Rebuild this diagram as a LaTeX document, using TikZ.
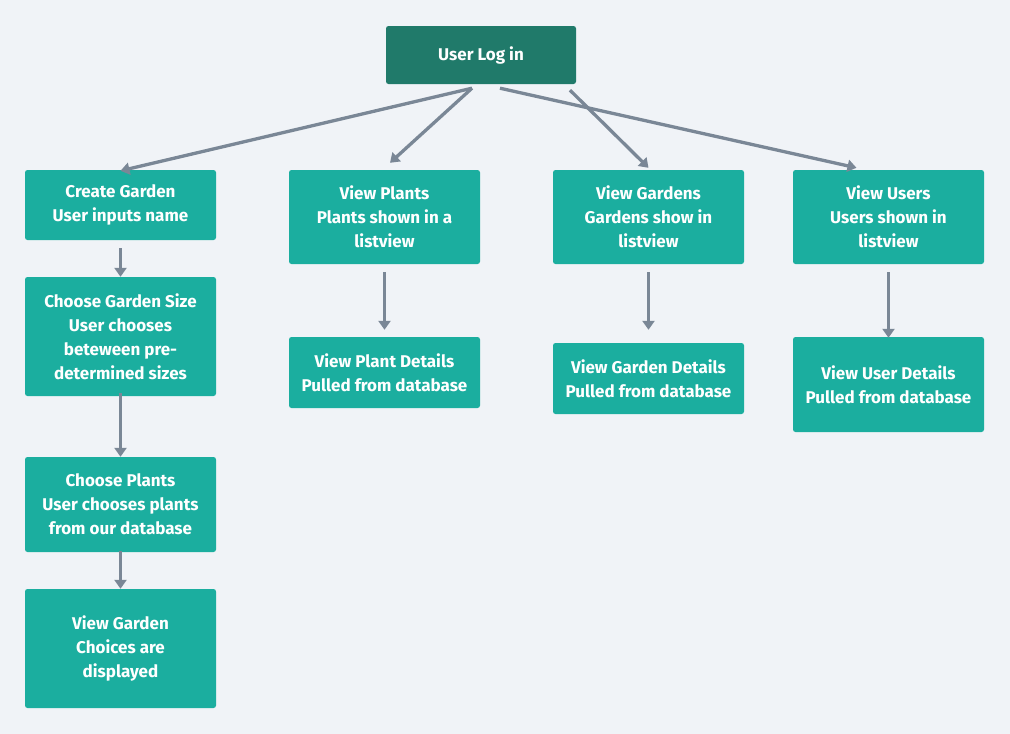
\documentclass[tikz,border=0pt]{standalone}
\usepackage{fontspec}
\setmainfont{Fira Sans}
\usetikzlibrary{arrows.meta}
\definecolor{bg}{HTML}{F0F3F7}
\definecolor{teal}{HTML}{1BAE9F}
\definecolor{darkteal}{HTML}{207A6A}
\definecolor{arr}{HTML}{7A8796}
\tikzset{
  box/.style={fill=teal, rounded corners=2.5pt, minimum width=191pt, inner sep=0pt,
    align=center, text=white, font=\bfseries\fontsize{17}{24}\selectfont},
  conn/.style={draw=arr, line width=3.3pt, -{Triangle[length=9pt,width=12pt]}},
}
\begin{document}
\begin{tikzpicture}[x=1pt,y=-1pt]
\useasboundingbox[fill=bg] (0,0) rectangle (1010,734);
\node[box, fill=darkteal, minimum width=190pt, minimum height=58pt] (login) at (481,55) {User Log in};
\node[box, minimum height=70pt] (cg) at (120.5,205) {Create Garden\\User inputs name};
\node[box, minimum height=119pt] (size) at (120.5,336.5) {Choose Garden Size\\User chooses\\beteween pre-\\determined sizes};
\node[box, minimum height=95pt] (plants) at (120.5,504.5) {Choose Plants\\User chooses plants\\from our database};
\node[box, minimum height=119pt] (vg) at (120.5,648.5) {View Garden\\Choices are\\displayed};
\node[box, minimum height=94pt] (vp) at (384.5,217) {View Plants\\Plants shown in a\\listview};
\node[box, minimum height=71pt] (vpd) at (384.5,372.5) {View Plant Details\\Pulled from database};
\node[box, minimum height=94pt] (vgs) at (648.5,217) {View Gardens\\Gardens show in\\listview};
\node[box, minimum height=71pt] (vgd) at (648.5,378.5) {View Garden Details\\Pulled from database};
\node[box, minimum height=94pt] (vu) at (888.5,217) {View Users\\Users shown in\\listview};
\node[box, minimum height=95pt] (vud) at (888.5,384.5) {View User Details\\Pulled from database};

\draw[conn] ([xshift=-9pt,yshift=-4pt]login.south) -- ([yshift=-1pt]cg.north);
\draw[conn] ([xshift=-9pt,yshift=-4pt]login.south) -- ([xshift=5.5pt,yshift=7pt]vp.north);
\draw[conn] ([xshift=89pt,yshift=-6pt]login.south) -- ([yshift=2pt]vgs.north);
\draw[conn] ([xshift=19pt,yshift=-4pt]login.south) -- ([xshift=-32pt,yshift=2pt]vu.north);

\draw[conn] ([yshift=-8pt]cg.south) -- (size.north);
\draw[conn] ([yshift=3pt]size.south) -- (plants.north);
\draw[conn] ([yshift=1pt]plants.south) -- (vg.north);
\draw[conn] ([yshift=-8pt]vp.south) -- ([yshift=7pt]vpd.north);
\draw[conn] ([yshift=-8pt]vgs.south) -- ([yshift=13pt]vgd.north);
\draw[conn] ([yshift=-8pt]vu.south) -- ([yshift=-1pt]vud.north);
\end{tikzpicture}
\end{document}
